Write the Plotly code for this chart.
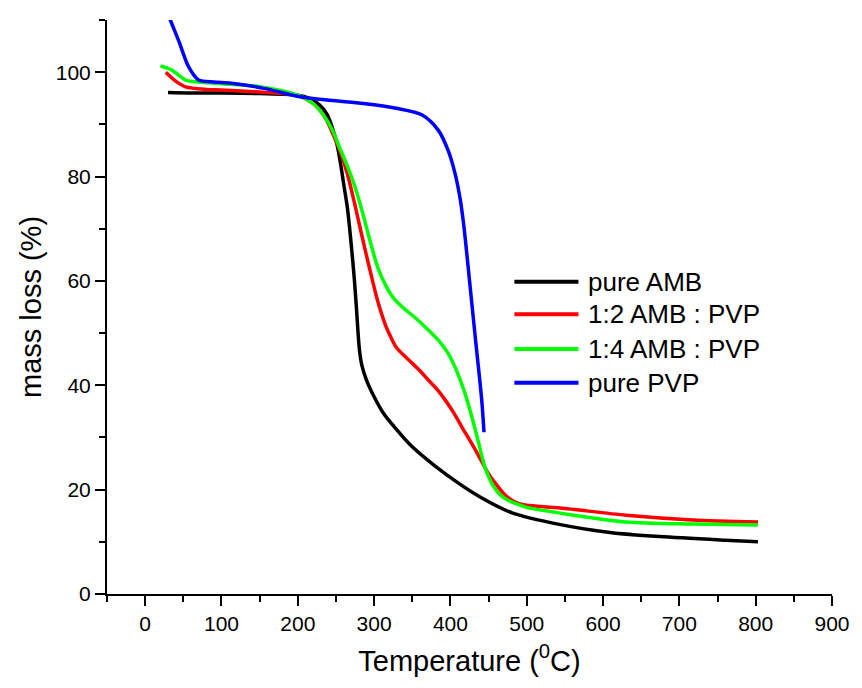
import plotly.graph_objects as go

# ---- data ----
amb_x = [30, 60, 100, 150, 200, 215, 228, 238, 245, 251, 256, 260, 265, 270, 274, 277, 279, 281, 284, 290, 300, 312, 329, 350, 380, 410, 440, 480, 544, 609, 674, 760, 803]
amb_y = [96.1, 96.0, 96.0, 95.9, 95.6, 95.0, 93.8, 92.0, 89.5, 86.4, 82.5, 78.7, 74.0, 67.0, 60.5, 54.5, 50.0, 46.5, 43.8, 41.0, 37.8, 34.7, 31.6, 28.2, 24.5, 21.3, 18.5, 15.6, 13.3, 11.8, 11.0, 10.3, 10.0]

r12_x = [27, 40, 53, 80, 100, 150, 200, 220, 235, 245, 255, 265, 275, 285, 295, 305, 315, 322, 329, 340, 350, 360, 371, 382, 393, 404, 415, 428, 441, 450, 460, 470, 480, 490, 500, 544, 630, 717, 803]
r12_y = [100.0, 98.3, 97.2, 96.7, 96.6, 96.2, 95.5, 94.0, 91.5, 88.5, 85.0, 80.5, 74.5, 68.0, 61.8, 56.0, 51.5, 49.2, 47.3, 45.6, 44.2, 42.8, 41.0, 39.3, 37.2, 34.8, 32.0, 28.8, 25.4, 23.0, 21.0, 19.2, 18.0, 17.3, 17.0, 16.5, 15.1, 14.2, 13.8]

r14_x = [20, 35, 53, 70, 100, 150, 200, 220, 235, 245, 255, 265, 275, 285, 295, 305, 315, 325, 337, 355, 371, 385, 397, 408, 419, 428, 436, 445, 455, 465, 475, 490, 500, 544, 630, 717, 803]
r14_y = [101.2, 100.4, 98.5, 98.1, 97.8, 97.2, 95.6, 94.0, 91.5, 89.0, 85.5, 82.0, 78.0, 73.0, 67.5, 62.5, 59.2, 56.8, 55.0, 52.8, 50.6, 48.5, 46.1, 42.8, 38.5, 34.0, 29.5, 24.4, 21.0, 19.0, 18.0, 17.1, 16.6, 15.5, 13.8, 13.4, 13.2]

pvp_x = [28, 33, 44, 57, 70, 90, 113, 156, 199, 242, 286, 329, 363, 384, 397, 406, 413, 418, 423, 432, 441, 444]
pvp_y = [112.0, 110.0, 106.0, 101.0, 98.5, 98.1, 97.9, 96.9, 95.4, 94.6, 94.0, 93.1, 91.8, 88.9, 85.0, 80.6, 75.5, 70.0, 63.0, 50.0, 37.2, 31.0]

names = ["pure AMB", "1:2 AMB : PVP", "1:4 AMB : PVP", "pure PVP"]
colors = ["#000000", "#ff0000", "#00ff00", "#0000ff"]

FONT = "Liberation Sans, Arial, sans-serif"

fig = go.Figure()
for xs, ys, nm, col in zip([amb_x, r12_x, r14_x, pvp_x], [amb_y, r12_y, r14_y, pvp_y], names, colors):
    fig.add_trace(go.Scatter(x=xs, y=ys, mode="lines", name=nm, showlegend=False,
                             line=dict(color=col, width=3.5, shape="spline", smoothing=0.8)))

# legend drawn as sample lines + text (paper coordinates)
leg_y = [0.544, 0.4873, 0.4268, 0.3681]
for nm, col, yy in zip(names, colors, leg_y):
    fig.add_shape(type="line", xref="paper", yref="paper", x0=0.5619, x1=0.6503, y0=yy, y1=yy,
                  line=dict(color=col, width=4))
    fig.add_annotation(xref="paper", yref="paper", x=0.6612, y=yy, xanchor="left", yanchor="middle",
                       text=nm, showarrow=False, font=dict(family=FONT, size=26, color="black"))

axis_common = dict(showgrid=False, zeroline=False, showline=True, linecolor="black", linewidth=2,
                   ticks="outside", ticklen=10, tickwidth=2, tickcolor="black",
                   tickfont=dict(family=FONT, size=21, color="black"), mirror=False)

fig.update_xaxes(range=[-50, 900], dtick=100, tick0=0,
                 minor=dict(dtick=50, tick0=0, ticks="outside", ticklen=6, tickwidth=2, tickcolor="black"),
                 title=dict(text="Temperature (<sup>0</sup>C)", font=dict(family=FONT, size=29, color="black"), standoff=16),
                 **axis_common)
fig.update_yaxes(range=[0, 110], dtick=20, tick0=0,
                 minor=dict(dtick=10, tick0=0, ticks="outside", ticklen=6, tickwidth=2, tickcolor="black"),
                 title=dict(text="mass loss (%)", font=dict(family=FONT, size=29, color="black"), standoff=6),
                 **axis_common)

fig.update_layout(width=862, height=688, paper_bgcolor="white", plot_bgcolor="white",
                  margin=dict(l=107, r=20, t=20, b=94), showlegend=False)

fig.write_html("out.html")
